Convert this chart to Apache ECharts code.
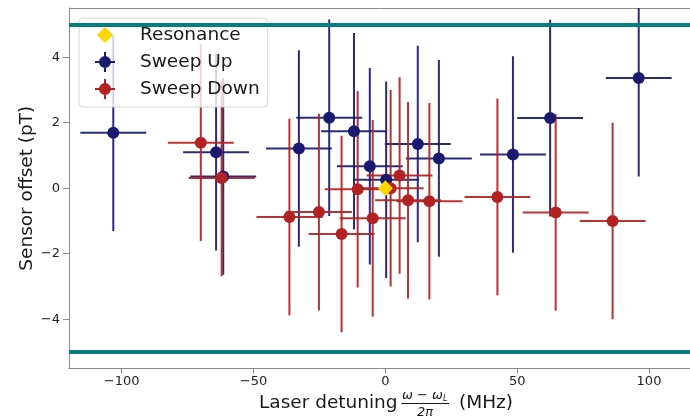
<!DOCTYPE html>
<html>
<head>
<meta charset="utf-8">
<script src="https://cdn.jsdelivr.net/npm/echarts@6/dist/echarts.min.js"></script>
<style>
  html, body { margin: 0; padding: 0; background: #fff; }
  #chart { width: 690px; height: 417px; }
</style>
</head>
<body>
<div id="chart"></div>
<script>
// Detuning (MHz) and sensor offset (pT) per measurement
const upX = [-103.2, -64.2, -61.5, -32.8, -21.3, -11.9, -5.9, 0.3, 12.3, 20.3, 48.4, 62.5, 96.1];
const upY = [1.69, 1.10, 0.36, 1.21, 2.15, 1.74, 0.67, 0.26, 1.35, 0.91, 1.03, 2.14, 3.36];
const downX = [-70.0, -62.1, -36.4, -25.2, -16.6, -10.5, -4.8, 2.0, 5.4, 8.6, 16.7, 42.5, 64.6, 86.2];
const downY = [1.39, 0.31, -0.88, -0.73, -1.40, -0.03, -0.92, 0.0, 0.39, -0.37, -0.40, -0.27, -0.74, -1.00];
const resonanceX = [0];
const resonanceY = [0];
// Uncertainties shared by every measurement
const xErr = 12.5;   // MHz
const yErr = 3.0;    // pT
// Sensor limits
const limits = [5, -5];
// Tick labels
const xTicks = [-100, -50, 0, 50, 100];
const yTicks = [-4, -2, 0, 2, 4];

const X_MIN = -120, X_MAX = 115.55, Y_MIN = -5.5, Y_MAX = 5.5;
const FONT = 'DejaVu Sans';
const BLUE = '#191970', RED = '#b22222', GOLD = '#ffd700', TEAL = '#008080';
const SPINE = '#8a8a8a';

const fmt = v => (v < 0 ? '\u2212' + Math.abs(v) : String(v));

function rows(xs, ys) {
  return xs.map((x, i) => [x, ys[i], xErr, yErr]);
}

function renderErr(color) {
  return function (params, api) {
    const x = api.value(0), y = api.value(1), xe = api.value(2), ye = api.value(3);
    const clampY = v => Math.max(Y_MIN, Math.min(Y_MAX, v));
    const clampX = v => Math.max(X_MIN, Math.min(X_MAX, v));
    const h1 = api.coord([clampX(x - xe), y]);
    const h2 = api.coord([clampX(x + xe), y]);
    const v1 = api.coord([x, clampY(y - ye)]);
    const v2 = api.coord([x, clampY(y + ye)]);
    const style = { stroke: color, lineWidth: 2, opacity: 0.92 };
    return {
      type: 'group',
      children: [
        { type: 'line', shape: { x1: h1[0], y1: h1[1], x2: h2[0], y2: h2[1] }, style },
        { type: 'line', shape: { x1: v1[0], y1: v1[1], x2: v2[0], y2: v2[1] }, style }
      ]
    };
  };
}

// Legend glyphs: errorbar cross with marker, and a diamond (24x24 box)
const BOX = 'M0,0 M24,24 ';
const errIcon = 'path://' + BOX +
  'M6,12 A6,6 0 1,1 18,12 A6,6 0 1,1 6,12 Z ' +
  'M2,11 L6.6,11 L6.6,13 L2,13 Z M17.4,11 L22,11 L22,13 L17.4,13 Z ' +
  'M11,2 L13,2 L13,6.6 L11,6.6 Z M11,17.4 L13,17.4 L13,22 L11,22 Z';
const diamondIcon = 'path://' + BOX + 'M12,4 L20,12 L12,20 L4,12 Z';

const chart = echarts.init(document.getElementById('chart'), null, { renderer: 'canvas' });

chart.setOption({
  animation: false,
  backgroundColor: '#ffffff',
  textStyle: { fontFamily: FONT },
  grid: { left: 69, right: 0, top: 8, bottom: 48.6, containLabel: false },
  legend: {
    orient: 'vertical',
    left: 79,
    top: 18,
    padding: [5, 8, 6, 14],
    itemWidth: 24,
    itemHeight: 24,
    itemGap: 3,
    selectedMode: false,
    backgroundColor: 'rgba(255,255,255,0.8)',
    borderColor: '#d6d6d6',
    borderWidth: 1,
    borderRadius: 4,
    formatter: '{t|{name}}',
    textStyle: {
      fontFamily: FONT,
      fontSize: 18.5,
      color: '#1a1a1a',
      rich: { t: { fontFamily: FONT, fontSize: 18.5, color: '#1a1a1a', padding: [0, 0, 0, 18] } }
    },
    data: [
      { name: 'Resonance', icon: diamondIcon, itemStyle: { color: GOLD } },
      { name: 'Sweep Up', icon: errIcon, itemStyle: { color: BLUE } },
      { name: 'Sweep Down', icon: errIcon, itemStyle: { color: RED } }
    ]
  },
  xAxis: [
    {
      type: 'value',
      min: X_MIN,
      max: X_MAX,
      position: 'bottom',
      axisLine: { show: true, onZero: false, lineStyle: { color: SPINE, width: 1 } },
      axisTick: { show: true, inside: false, length: 5, customValues: xTicks, lineStyle: { color: SPINE } },
      axisLabel: { customValues: xTicks, formatter: fmt, margin: 7, fontSize: 13, color: '#222', fontFamily: FONT },
      splitLine: { show: false }
    },
    {
      type: 'value',
      min: X_MIN,
      max: X_MAX,
      position: 'top',
      axisLine: { show: true, onZero: false, lineStyle: { color: SPINE, width: 1 } },
      axisTick: { show: false },
      axisLabel: { show: false },
      splitLine: { show: false }
    }
  ],
  yAxis: {
    type: 'value',
    min: Y_MIN,
    max: Y_MAX,
    name: 'Sensor offset (pT)',
    nameLocation: 'middle',
    nameGap: 32,
    nameMoveOverlap: false,
    nameTextStyle: { fontSize: 18.5, color: '#1a1a1a', fontFamily: FONT },
    axisLine: { show: true, onZero: false, lineStyle: { color: SPINE, width: 1 } },
    axisTick: { show: true, inside: false, length: 6, customValues: yTicks, lineStyle: { color: SPINE } },
    axisLabel: { customValues: yTicks, formatter: fmt, margin: 9, fontSize: 13, color: '#222', fontFamily: FONT },
    splitLine: { show: false }
  },
  series: [
    {
      name: 'Sweep Up bars',
      type: 'custom',
      clip: true,
      renderItem: renderErr(BLUE),
      data: rows(upX, upY),
      encode: { x: 0, y: 1 },
      z: 2
    },
    {
      name: 'Sweep Down bars',
      type: 'custom',
      clip: true,
      renderItem: renderErr(RED),
      data: rows(downX, downY),
      encode: { x: 0, y: 1 },
      z: 2
    },
    {
      name: 'Sweep Up',
      type: 'scatter',
      symbol: 'circle',
      symbolSize: 12,
      itemStyle: { color: BLUE, opacity: 1 },
      data: upX.map((x, i) => [x, upY[i]]),
      z: 3
    },
    {
      name: 'Sweep Down',
      type: 'scatter',
      symbol: 'circle',
      symbolSize: 12,
      itemStyle: { color: RED, opacity: 1 },
      data: downX.map((x, i) => [x, downY[i]]),
      z: 3
    },
    {
      name: 'Resonance',
      type: 'scatter',
      symbol: 'diamond',
      symbolSize: [15, 16],
      itemStyle: { color: GOLD, opacity: 1 },
      data: resonanceX.map((x, i) => [x, resonanceY[i]]),
      z: 4,
      markLine: {
        silent: true,
        symbol: 'none',
        animation: false,
        label: { show: false },
        lineStyle: { color: TEAL, width: 4, type: 'solid', opacity: 1 },
        emphasis: { disabled: true },
        data: limits.map(v => ({ yAxis: v }))
      }
    }
  ],
  graphic: [
    {
      type: 'text', left: 259, top: 394,
      style: { text: 'Laser detuning', font: '18.5px "DejaVu Sans"', fill: '#1a1a1a' }
    },
    {
      type: 'text', left: 402, top: 389,
      style: {
        text: '{i|\u03c9}{n| \u2212 }{i|\u03c9}{s|L}',
        fill: '#1a1a1a',
        rich: {
          i: { fontFamily: FONT, fontStyle: 'italic', fontSize: 13, lineHeight: 14 },
          n: { fontFamily: FONT, fontSize: 13, lineHeight: 14 },
          s: { fontFamily: FONT, fontStyle: 'italic', fontSize: 8, lineHeight: 14, verticalAlign: 'bottom', padding: [6, 0, 0, 0] }
        }
      }
    },
    {
      type: 'line', shape: { x1: 401.5, y1: 403.5, x2: 449, y2: 403.5 },
      style: { stroke: '#1a1a1a', lineWidth: 1 }
    },
    {
      type: 'text', left: 417, top: 406,
      style: { text: '2\u03c0', fill: '#1a1a1a', font: 'italic 13px "DejaVu Sans"' }
    },
    {
      type: 'text', left: 459, top: 394,
      style: { text: '(MHz)', font: '18.5px "DejaVu Sans"', fill: '#1a1a1a' }
    }
  ]
});
</script>
</body>
</html>
